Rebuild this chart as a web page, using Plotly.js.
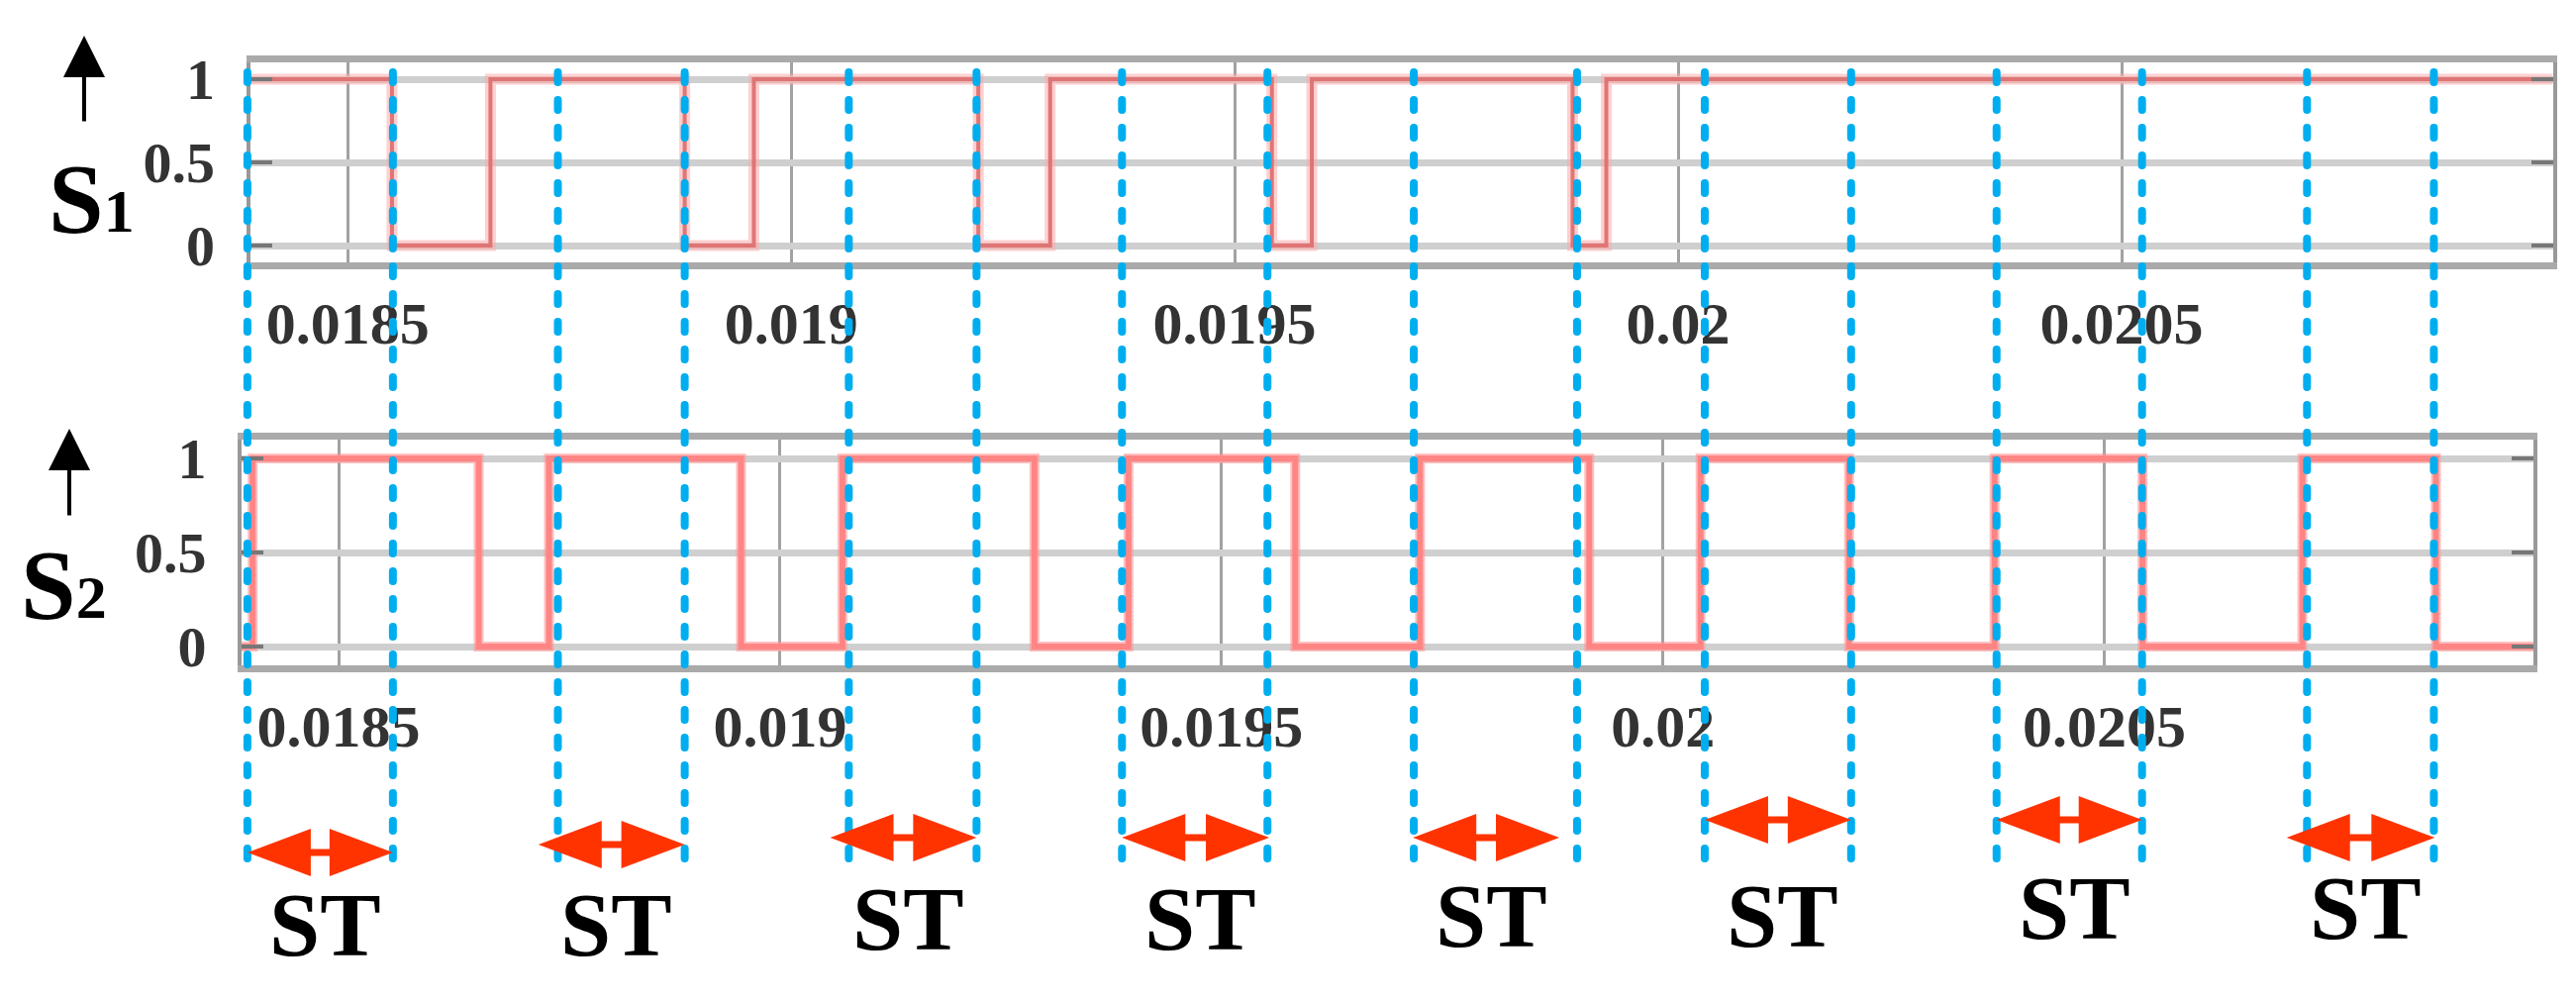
<!DOCTYPE html>
<html><head><meta charset="utf-8">
<script src="https://cdn.plot.ly/plotly-3.0.1.min.js"></script>
<style>
html,body{margin:0;padding:0;background:#fff}
#chart{width:2602px;height:1012px}
</style>
</head><body><div id="chart"></div>
<script>
// ---------------- data ----------------
const xTickVals = [0.0185, 0.019, 0.0195, 0.02, 0.0205];
const xTickText = ['0.0185', '0.019', '0.0195', '0.02', '0.0205'];
const yTickVals = [0, 0.5, 1];
const yTickText = ['0', '0.5', '1'];

// S1 switching signal: change instants (s) and level after each instant
const s1Time  = [0.01839, 0.01855, 0.018661, 0.01888, 0.018958, 0.019211, 0.019292, 0.019542, 0.019587, 0.019881, 0.019919, 0.020986];
const s1Value = [1, 0, 1, 0, 1, 0, 1, 0, 1, 0, 1, 1];

// S2 switching signal
const s2Time  = [0.01839, 0.0184025, 0.0186586, 0.0187382, 0.0189557, 0.0190706, 0.0192881, 0.0193946, 0.0195835, 0.0197248, 0.0199165, 0.0200426, 0.0202108, 0.0203756, 0.0205432, 0.0207243, 0.0208756, 0.020986];
const s2Value = [0, 1, 0, 1, 0, 1, 0, 1, 0, 1, 0, 1, 0, 1, 0, 1, 0, 0];

// shoot-through (ST) intervals marked by the dashed lines
const stStart = [0.018387, 0.018737, 0.019065, 0.019373, 0.019702, 0.020030, 0.020359, 0.020709];
const stEnd   = [0.018551, 0.018880, 0.019209, 0.019537, 0.019886, 0.020195, 0.020523, 0.020852];
// double-headed arrows under each interval
const arrowStart = [0.018387, 0.018715, 0.019044, 0.019373, 0.019701, 0.020030, 0.020359, 0.020686];
const arrowEnd   = [0.018551, 0.018880, 0.019209, 0.019539, 0.019866, 0.020195, 0.020523, 0.020853];
const stLabel = 'ST';

// ---------------- layout constants ----------------
const W = 2602, H = 1012;
const xRange = [0.01839, 0.020986];
const yRange = [-0.1, 1.1];
const topBox = {l: 252.6, r: 2578.5, t: 63.2, b: 264.8};
const botBox = {l: 244, r: 2559, t: 444, b: 672};
const FONT = 'Liberation Serif, Times New Roman, serif';
const BLUE = {top: 73, bottom: 883, color: '#00AEEF', width: 8};
const ARROW = {head: 64, half: 24, shaft: 3.4, color: '#FF3300',
               y: [861, 853, 846, 846, 846, 828, 828, 846]};
const LABEL = {y: [934, 934, 928, 928, 924.5, 924.5, 917, 917], size: 92, xshift: 5};

function xAxis(box, anchor) {
  return {
    domain: [box.l / W, box.r / W], range: xRange, anchor: anchor,
    tickmode: 'array', tickvals: xTickVals, ticktext: xTickText,
    showgrid: true, gridcolor: '#a2a2a2', gridwidth: 3,
    showline: true, mirror: true, linecolor: '#aaaaaa', linewidth: 7,
    ticks: '', zeroline: false, ticklabelstandoff: 3,
    tickfont: {family: FONT, size: 60, color: '#333', weight: 'bold'},
    fixedrange: true
  };
}
function yAxis(box, anchor) {
  return {
    domain: [1 - box.b / H, 1 - box.t / H], range: yRange, anchor: anchor,
    tickmode: 'array', tickvals: yTickVals, ticktext: yTickText,
    showgrid: true, gridcolor: '#cfcfcf', gridwidth: 7,
    showline: true, mirror: 'ticks', linecolor: '#999', linewidth: 4,
    ticks: 'inside', ticklen: 22, tickwidth: 4, tickcolor: '#777',
    zeroline: false, ticklabelstandoff: 20,
    tickfont: {family: FONT, size: 58, color: '#333', weight: 'bold'},
    fixedrange: true
  };
}

// overlay axis aligned with the top axis, spanning the whole page
const pxPerUnit = (topBox.r - topBox.l) / (xRange[1] - xRange[0]);
const x3lo = xRange[0] - topBox.l / pxPerUnit;
const x3hi = x3lo + W / pxPerUnit;

// blue dashed lines
const bx = [], by = [];
stStart.forEach((a, i) => {
  [a, stEnd[i]].forEach(t => { bx.push(t, t, null); by.push(BLUE.top, BLUE.bottom, null); });
});

// arrows
const headT = ARROW.head / pxPerUnit;
const ax = [], ay = [];
arrowStart.forEach((a, i) => {
  const b = arrowEnd[i], c = ARROW.y[i], hh = ARROW.half, s = ARROW.shaft;
  ax.push(a, a + headT, a + headT, b - headT, b - headT, b, b - headT, b - headT, a + headT, a + headT, a, null);
  ay.push(c, c - hh, c - s, c - s, c - hh, c, c + hh, c + s, c + s, c + hh, c, null);
});

const traces = [
  {x: s1Time, y: s1Value, xaxis: 'x', yaxis: 'y', mode: 'lines', line: {shape: 'hv', width: 11, color: 'rgba(255,170,170,0.55)'}, hoverinfo: 'skip'},
  {x: s1Time, y: s1Value, xaxis: 'x', yaxis: 'y', mode: 'lines', line: {shape: 'hv', width: 4, color: 'rgba(222,112,112,0.95)'}, hoverinfo: 'skip'},
  {x: s2Time, y: s2Value, xaxis: 'x2', yaxis: 'y2', mode: 'lines', line: {shape: 'hv', width: 10, color: 'rgba(255,150,150,0.6)'}, hoverinfo: 'skip'},
  {x: s2Time, y: s2Value, xaxis: 'x2', yaxis: 'y2', mode: 'lines', line: {shape: 'hv', width: 6, color: '#ff8585'}, hoverinfo: 'skip'},
  {x: bx, y: by, xaxis: 'x3', yaxis: 'y3', mode: 'lines', connectgaps: false,
   line: {color: BLUE.color, width: BLUE.width, dash: '18px,10px'}, hoverinfo: 'skip'},
  {x: ax, y: ay, xaxis: 'x3', yaxis: 'y3', mode: 'lines', fill: 'toself', fillcolor: ARROW.color,
   line: {width: 0, color: ARROW.color}, hoverinfo: 'skip'}
];

const annotations = [];
// ST labels
arrowStart.forEach((a, i) => {
  annotations.push({xref: 'x3', yref: 'y3', x: (a + arrowEnd[i]) / 2, y: LABEL.y[i], xshift: LABEL.xshift,
    text: '<b>' + stLabel + '</b>', showarrow: false, xanchor: 'center', yanchor: 'middle',
    font: {family: FONT, size: LABEL.size, color: '#000'}});
});
// signal names and up arrows
annotations.push({xref: 'paper', yref: 'paper', x: 92 / W, y: 1 - 201 / H, showarrow: false,
  text: '<b>S<span style="font-size:62px">1</span></b>', xanchor: 'center', yanchor: 'middle',
  font: {family: FONT, size: 100, color: '#000'}});
annotations.push({xref: 'paper', yref: 'paper', x: 64 / W, y: 1 - 590 / H, showarrow: false,
  text: '<b>S<span style="font-size:62px">2</span></b>', xanchor: 'center', yanchor: 'middle',
  font: {family: FONT, size: 100, color: '#000'}});
annotations.push({xref: 'paper', yref: 'paper', x: 85 / W, y: 1 - 36 / H, text: '', showarrow: true,
  ax: 0, ay: 88, arrowhead: 2, arrowsize: 2.1, arrowwidth: 4, arrowcolor: '#000'});
annotations.push({xref: 'paper', yref: 'paper', x: 70 / W, y: 1 - 433 / H, text: '', showarrow: true,
  ax: 0, ay: 89, arrowhead: 2, arrowsize: 2.1, arrowwidth: 4, arrowcolor: '#000'});

const layout = {
  width: W, height: H,
  margin: {l: 0, r: 0, t: 0, b: 0, pad: 0},
  paper_bgcolor: '#ffffff', plot_bgcolor: 'rgba(0,0,0,0)',
  showlegend: false, hovermode: false,
  font: {family: FONT},
  xaxis: xAxis(topBox, 'y'),
  yaxis: yAxis(topBox, 'x'),
  xaxis2: xAxis(botBox, 'y2'),
  yaxis2: yAxis(botBox, 'x2'),
  xaxis3: {domain: [0, 1], range: [x3lo, x3hi], anchor: 'y3', visible: false, fixedrange: true},
  yaxis3: {domain: [0, 1], range: [H, 0], anchor: 'x3', visible: false, fixedrange: true},
  annotations: annotations
};

Plotly.newPlot('chart', traces, layout, {staticPlot: true, displayModeBar: false}).then(gd => {
  // rounded dash ends like the reference; keep the same visual dash/gap lengths
  const groups = gd.querySelectorAll('g.trace.scatter');
  if (groups.length >= 5) {
    groups[4].querySelectorAll('path.js-line').forEach(p => {
      p.style.strokeLinecap = 'round';
      p.style.strokeDasharray = (18 - BLUE.width) + 'px,' + (10 + BLUE.width) + 'px';
    });
  }
});
</script>
</body></html>
